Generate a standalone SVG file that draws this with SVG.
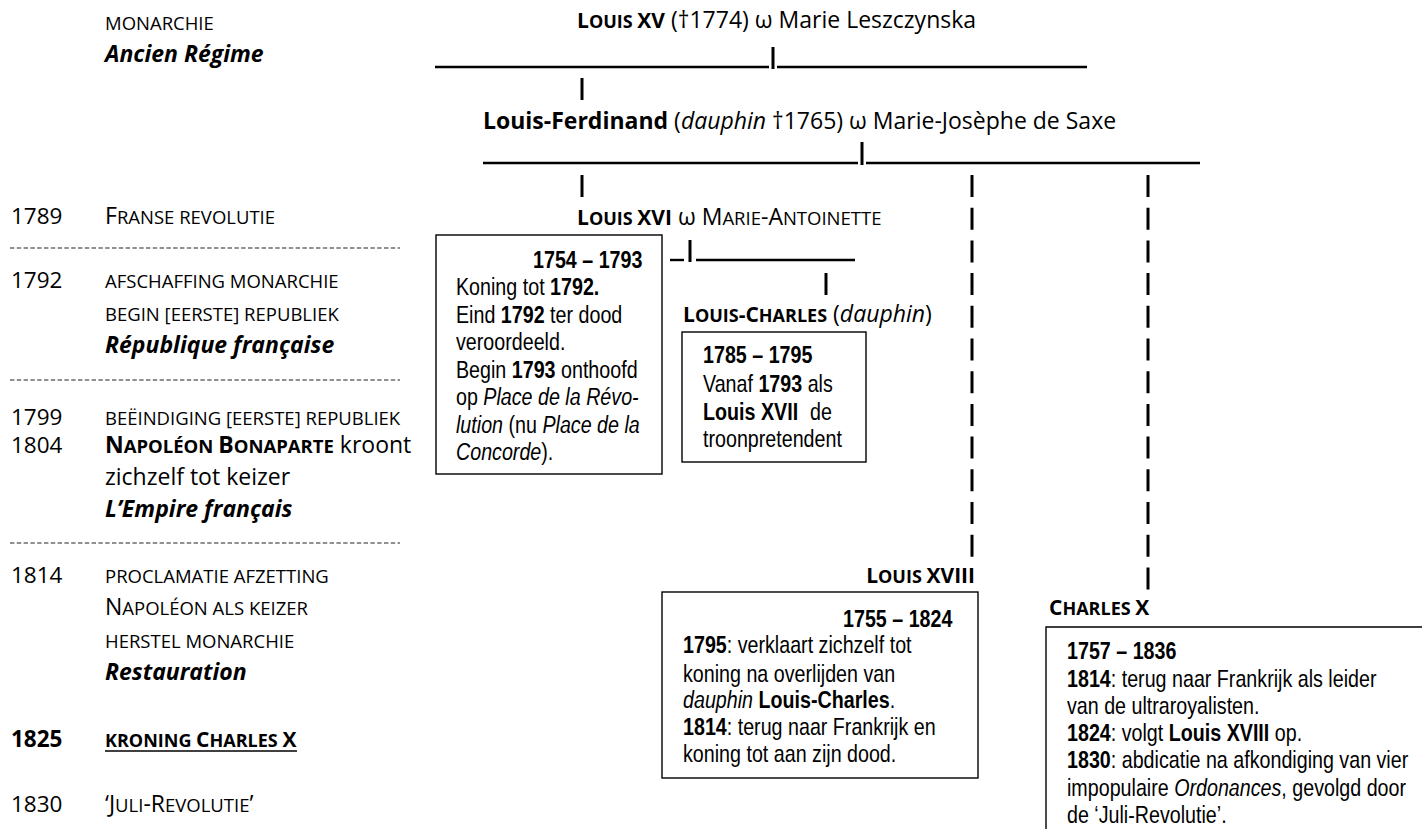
<svg xmlns="http://www.w3.org/2000/svg" width="1422" height="829" viewBox="0 0 1422 829">
<style>
text{fill:#000}
.c{font-family:'Open Sans','Liberation Sans',sans-serif;font-size:23px}
.y{font-size:22.5px}
.sc{font-size:18.5px}
.lab{font-family:'Open Sans','Liberation Sans',sans-serif;font-size:21px;font-weight:bold}
.lab .s{font-size:18px}
.b{font-weight:bold}
.i{font-style:italic}
.n{font-family:'Liberation Sans',Arial,sans-serif;font-size:24px}
.u{stroke:#000;stroke-width:2.4;fill:none}
.bar{stroke:#000;stroke-width:3;fill:none}
.dash{stroke:#000;stroke-width:3;stroke-dasharray:22 10.7;fill:none}
.sep{stroke:#222;stroke-width:1.2;stroke-dasharray:4.4 2.4;fill:none}
.box{fill:#fff;stroke:#000;stroke-width:1.4}
</style>

<g id="timeline">
  <text class="c sc" x="105" y="30">MONARCHIE</text>
  <text class="c b i" x="105" y="62">Ancien Régime</text>

  <text class="c y" x="11" y="224">1789</text>
  <text class="c" x="105" y="224">F<tspan class="sc">RANSE REVOLUTIE</tspan></text>
  <line class="sep" x1="10" y1="248" x2="400" y2="248"/>

  <text class="c y" x="11" y="288">1792</text>
  <text class="c sc" x="105" y="288">AFSCHAFFING MONARCHIE</text>
  <text class="c sc" x="105" y="321">BEGIN [EERSTE] REPUBLIEK</text>
  <text class="c b i" x="105" y="353">République française</text>
  <line class="sep" x1="10" y1="380" x2="400" y2="380"/>

  <text class="c y" x="11" y="425">1799</text>
  <text class="c sc" x="105" y="425">BEËINDIGING [EERSTE] REPUBLIEK</text>
  <text class="c y" x="11" y="453">1804</text>
  <text class="c" x="105" y="453"><tspan class="b">N<tspan class="sc">APOLÉON </tspan>B<tspan class="sc">ONAPARTE</tspan></tspan> kroont</text>
  <text class="c" x="105" y="485">zichzelf tot keizer</text>
  <text class="c b i" x="105" y="517">L’Empire français</text>
  <line class="sep" x1="10" y1="543" x2="400" y2="543"/>

  <text class="c y" x="11" y="583">1814</text>
  <text class="c sc" x="105" y="583">PROCLAMATIE AFZETTING</text>
  <text class="c" x="105" y="615">N<tspan class="sc">APOLÉON ALS KEIZER</tspan></text>
  <text class="c sc" x="105" y="648">HERSTEL MONARCHIE</text>
  <text class="c b i" x="105" y="680">Restauration</text>

  <text class="c y b" x="11" y="747">1825</text>
  <text class="lab" x="105" y="747"><tspan class="s">KRONING </tspan>C<tspan class="s">HARLES </tspan>X</text>
  <line x1="105" y1="751" x2="297" y2="751" stroke="#000" stroke-width="1.6"/>

  <text class="c y" x="11" y="812">1830</text>
  <text class="c" x="105" y="812">‘J<tspan class="sc">ULI</tspan>-R<tspan class="sc">EVOLUTIE</tspan>’</text>
</g>

<g id="louis-xv">
  <text class="c" x="577" y="28"><tspan class="b" font-size="21">L<tspan font-size="18">OUIS </tspan>XV</tspan> (†1774) ω Marie Leszczynska</text>
</g>

<g id="louis-ferdinand">
  <text class="c" x="483" y="129"><tspan class="b">Louis-Ferdinand</tspan> (<tspan class="i">dauphin</tspan> †1765) ω Marie-Josèphe de Saxe</text>
</g>

<g id="louis-xvi">
  <text class="c" x="577" y="225"><tspan class="b" font-size="21">L<tspan font-size="18">OUIS </tspan>XVI</tspan> ω M<tspan class="sc">ARIE</tspan>-A<tspan class="sc">NTOINETTE</tspan></text>
  <rect class="box" x="436" y="235" width="226" height="239"/>
  <text class="n b" transform="translate(533 268) scale(0.82 1)">1754 – 1793</text>
  <text class="n" transform="translate(456 295) scale(0.82 1)">Koning tot <tspan class="b">1792.</tspan></text>
  <text class="n" transform="translate(456 323) scale(0.82 1)">Eind <tspan class="b">1792</tspan> ter dood</text>
  <text class="n" transform="translate(456 350) scale(0.82 1)">veroordeeld.</text>
  <text class="n" transform="translate(456 378) scale(0.82 1)">Begin <tspan class="b">1793</tspan> onthoofd</text>
  <text class="n" transform="translate(456 405) scale(0.82 1)">op <tspan class="i">Place de la Révo-</tspan></text>
  <text class="n" transform="translate(456 433) scale(0.82 1)"><tspan class="i">lution</tspan> (nu <tspan class="i">Place de la</tspan></text>
  <text class="n" transform="translate(456 460) scale(0.82 1)"><tspan class="i">Concorde</tspan>).</text>
</g>

<g id="louis-charles">
  <text class="c" x="683" y="322"><tspan class="b" font-size="21">L<tspan font-size="18">OUIS</tspan>-C<tspan font-size="18">HARLES</tspan></tspan> (<tspan class="i">dauphin</tspan>)</text>
  <rect class="box" x="682" y="332" width="184" height="130"/>
  <text class="n b" transform="translate(703 363) scale(0.82 1)">1785 – 1795</text>
  <text class="n" transform="translate(703 392) scale(0.82 1)">Vanaf <tspan class="b">1793</tspan> als</text>
  <text class="n b" transform="translate(703 420) scale(0.82 1)">Louis XVII</text>
  <text class="n" transform="translate(810 420) scale(0.82 1)">de</text>
  <text class="n" transform="translate(703 447) scale(0.82 1)">troonpretendent</text>
</g>

<g id="louis-xviii">
  <text class="lab" x="975" y="583" text-anchor="end">L<tspan class="s">OUIS </tspan>XVIII</text>
  <rect class="box" x="662" y="592" width="316" height="186"/>
  <text class="n b" transform="translate(843 627) scale(0.82 1)">1755 – 1824</text>
  <text class="n" transform="translate(683 653) scale(0.82 1)"><tspan class="b">1795</tspan>: verklaart zichzelf tot</text>
  <text class="n" transform="translate(683 682) scale(0.82 1)">koning na overlijden van</text>
  <text class="n" transform="translate(683 708) scale(0.82 1)"><tspan class="i">dauphin</tspan> <tspan class="b">Louis-Charles</tspan>.</text>
  <text class="n" transform="translate(683 735) scale(0.82 1)"><tspan class="b">1814</tspan>: terug naar Frankrijk en</text>
  <text class="n" transform="translate(683 762) scale(0.82 1)">koning tot aan zijn dood.</text>
</g>

<g id="charles-x">
  <text class="lab" x="1049" y="615">C<tspan class="s">HARLES </tspan>X</text>
  <path class="box" d="M1046,835 V627 H1430"/>
  <text class="n b" transform="translate(1067 659) scale(0.82 1)">1757 – 1836</text>
  <text class="n" transform="translate(1067 687) scale(0.82 1)"><tspan class="b">1814</tspan>: terug naar Frankrijk als leider</text>
  <text class="n" transform="translate(1067 714) scale(0.82 1)">van de ultraroyalisten.</text>
  <text class="n" transform="translate(1067 741) scale(0.82 1)"><tspan class="b">1824</tspan>: volgt <tspan class="b">Louis XVIII</tspan> op.</text>
  <text class="n" transform="translate(1067 768) scale(0.82 1)"><tspan class="b">1830</tspan>: abdicatie na afkondiging van vier</text>
  <text class="n" transform="translate(1067 796) scale(0.82 1)">impopulaire <tspan class="i">Ordonances</tspan>, gevolgd door</text>
  <text class="n" transform="translate(1067 823) scale(0.82 1)">de ‘Juli-Revolutie’.</text>
</g>

<g id="connectors">
  <line class="u" x1="435" y1="67" x2="769" y2="67"/>
  <line class="bar" x1="773" y1="47" x2="773" y2="69"/>
  <line class="u" x1="777" y1="67" x2="1087" y2="67"/>
  <line class="bar" x1="582" y1="78" x2="582" y2="100"/>

  <line class="u" x1="483" y1="163" x2="858" y2="163"/>
  <line class="bar" x1="862" y1="142" x2="862" y2="165"/>
  <line class="u" x1="866" y1="163" x2="1200" y2="163"/>
  <line class="bar" x1="582" y1="175" x2="582" y2="197"/>

  <line class="dash" x1="972" y1="175" x2="972" y2="557"/>
  <line class="dash" x1="1148" y1="175" x2="1148" y2="590"/>

  <line class="u" x1="670" y1="260" x2="684" y2="260"/>
  <line class="bar" x1="690" y1="240" x2="690" y2="262"/>
  <line class="u" x1="696" y1="260" x2="855" y2="260"/>
  <line class="bar" x1="826" y1="273" x2="826" y2="295"/>
</g>
</svg>
